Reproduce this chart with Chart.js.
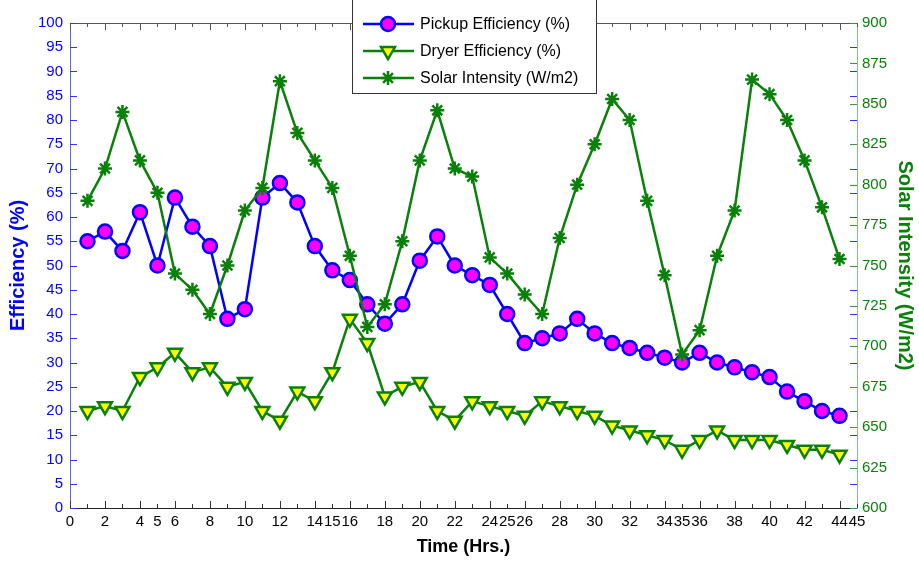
<!DOCTYPE html>
<html><head><meta charset="utf-8">
<script src="https://cdn.jsdelivr.net/npm/chart.js@4/dist/chart.umd.min.js"></script>
<style>html,body{margin:0;padding:0;background:#fff;}#wrap{width:919px;height:561px;}</style>
</head><body><div id="wrap"><canvas id="c" width="919" height="561"></canvas></div>
<script>
const hours = [1,2,3,4,5,6,7,8,9,10,11,12,13,14,15,16,17,18,19,20,21,22,23,24,25,26,27,28,29,30,31,32,33,34,35,36,37,38,39,40,41,42,43,44];
const pickupEff = [55,57,53,61,50,64,58,54,39,41,64,67,63,54,49,47,42,38,42,51,56,50,48,46,40,34,35,36,39,36,34,33,32,31,30,32,30,29,28,27,24,22,20,19];
const dryerEff = [20,21,20,27,29,32,28,29,25,26,20,18,24,22,28,39,34,23,25,26,20,18,22,21,20,19,22,21,20,19,17,16,15,14,12,14,16,14,14,14,13,12,12,11];
const solarIntensity = [790,810,845,815,795,745,735,720,750,784,798,864,832,815,798,756,712,726,765,815,846,810,805,755,745,732,720,767,800,825,853,840,790,744,695,710,756,784,865,856,840,815,786,754];
const xTickLabels = [0,2,4,5,6,8,10,12,14,15,16,18,20,22,24,25,26,28,30,32,34,35,36,38,40,42,44,45];
const seriesNames = ['Pickup Efficiency (%)','Dryer Efficiency (%)','Solar Intensity (W/m2)'];

const BLUE = '#0000ff', GREEN = '#0a800a', MAGENTA = '#ff00ff', YELLOW = '#ffff00';
const FONT = 'Liberation Sans, Arial, Helvetica, sans-serif';

function pts(vals){ return hours.map((h,i)=>({x:h,y:vals[i]})); }

const framePlugin = {
  id:'frame',
  afterDatasetsDraw(chart){
    const {ctx, chartArea:a, scales} = chart;
    ctx.save();
    ctx.strokeStyle = '#555'; ctx.lineWidth = 1;
    ctx.beginPath(); ctx.moveTo(a.left, a.top+0.5); ctx.lineTo(a.right, a.top+0.5); ctx.stroke();
    const xs = scales.x;
    for (let v=0; v<=45; v++){
      const px = Math.round(xs.getPixelForValue(v))+0.5;
      const len = (v%2===0)?7:4;
      ctx.strokeStyle = '#333';
      ctx.beginPath(); ctx.moveTo(px,a.bottom); ctx.lineTo(px,a.bottom-len); ctx.stroke();
      ctx.strokeStyle = '#555';
      ctx.beginPath(); ctx.moveTo(px,a.top); ctx.lineTo(px,a.top+len); ctx.stroke();
    }
    const ys = scales.y;
    ctx.strokeStyle = '#3030ff';
    for (let v=0; v<=100; v+=5){
      const py = Math.round(ys.getPixelForValue(v))+0.5;
      ctx.beginPath(); ctx.moveTo(a.left,py); ctx.lineTo(a.left+7,py); ctx.stroke();
      ctx.beginPath(); ctx.moveTo(a.right,py); ctx.lineTo(a.right-7,py); ctx.stroke();
    }
    const y1 = scales.y1;
    ctx.strokeStyle = '#3a9a3a';
    for (let v=600; v<=900; v+=25){
      const py = Math.round(y1.getPixelForValue(v))+0.5;
      ctx.beginPath(); ctx.moveTo(a.right,py); ctx.lineTo(a.right-7,py); ctx.stroke();
    }
    ctx.restore();
  },
  afterDraw(chart){
    const ctx = chart.ctx;
    ctx.save();
    const bx = 352.5, by = -2, bw = 244, bh = 95.5;
    ctx.fillStyle = '#fff'; ctx.fillRect(bx,by,bw,bh);
    ctx.strokeStyle = '#333'; ctx.lineWidth = 1; ctx.strokeRect(bx,by,bw,bh);
    const ds = chart.data.datasets;
    const rows = [24, 51, 78];
    ctx.font = '16px ' + FONT;
    ctx.textBaseline = 'middle';
    rows.forEach((ry,i)=>{
      const d = ds[i];
      ctx.strokeStyle = d.borderColor; ctx.lineWidth = 2.5;
      ctx.beginPath(); ctx.moveTo(363,ry); ctx.lineTo(414,ry); ctx.stroke();
      ctx.fillStyle = d.pointBackgroundColor; ctx.strokeStyle = d.pointBorderColor; ctx.lineWidth = d.pointBorderWidth;
      Chart.helpers.drawPoint(ctx, {pointStyle:d.pointStyle, rotation:d.pointRotation||0, radius:d.pointRadius, borderWidth:d.pointBorderWidth}, 388, ry);
      ctx.fillStyle = '#000';
      ctx.fillText(seriesNames[i], 420, ry+1);
    });
    ctx.restore();
  }
};

new Chart(document.getElementById('c'), {
  type:'line',
  data:{datasets:[
    {label:seriesNames[0], data:pts(pickupEff), yAxisID:'y', borderColor:BLUE, borderWidth:2.5,
     pointStyle:'circle', pointRadius:7, pointBackgroundColor:MAGENTA, pointBorderColor:BLUE, pointBorderWidth:2.5, tension:0, order:2},
    {label:seriesNames[1], data:pts(dryerEff), yAxisID:'y', borderColor:GREEN, borderWidth:2.5,
     pointStyle:'triangle', pointRotation:180, pointRadius:8, pointBackgroundColor:YELLOW, pointBorderColor:GREEN, pointBorderWidth:2.5, tension:0, order:3},
    {label:seriesNames[2], data:pts(solarIntensity), yAxisID:'y1', borderColor:GREEN, borderWidth:2.5,
     pointStyle:'star', pointRadius:7, pointBackgroundColor:GREEN, pointBorderColor:GREEN, pointBorderWidth:2.5, tension:0, order:1}
  ]},
  options:{
    responsive:false, animation:false, devicePixelRatio:1,
    layout:{padding:{top:23,left:0,right:0,bottom:0}},
    plugins:{legend:{display:false}, tooltip:{enabled:false}},
    scales:{
      x:{type:'linear', min:0, max:45,
        ticks:{stepSize:1, autoSkip:false, maxRotation:0, color:'#000', padding:5, font:{family:FONT,size:15},
          callback:v=> xTickLabels.includes(v)? String(v): ''},
        grid:{display:true, drawOnChartArea:false, drawTicks:false},
        border:{display:true, color:'#222', width:1},
        title:{display:true, text:'Time (Hrs.)', color:'#000', font:{family:FONT,size:18,weight:'bold'}, padding:{top:0,bottom:3}},
        afterFit:s=>{s.height=53;}},
      y:{type:'linear', position:'left', min:0, max:100,
        ticks:{stepSize:5, color:BLUE, padding:7, font:{family:FONT,size:15}},
        grid:{display:true, drawOnChartArea:false, drawTicks:false},
        border:{display:true, color:'#6060ff', width:1},
        title:{display:true, text:'Efficiency (%)', color:BLUE, font:{family:FONT,size:20,weight:'bold'}, padding:{top:6,bottom:0}},
        afterFit:s=>{s.width=70;}},
      y1:{type:'linear', position:'right', min:600, max:900,
        ticks:{stepSize:25, color:GREEN, padding:5, font:{family:FONT,size:15}},
        grid:{display:true, drawOnChartArea:false, drawTicks:false},
        border:{display:true, color:'#80c080', width:1},
        title:{display:true, text:'Solar Intensity (W/m2)', color:GREEN, font:{family:FONT,size:20,weight:'bold'}, padding:{top:2,bottom:0}},
        afterFit:s=>{s.width=62;}}
    }
  },
  plugins:[framePlugin]
});
</script></body></html>
